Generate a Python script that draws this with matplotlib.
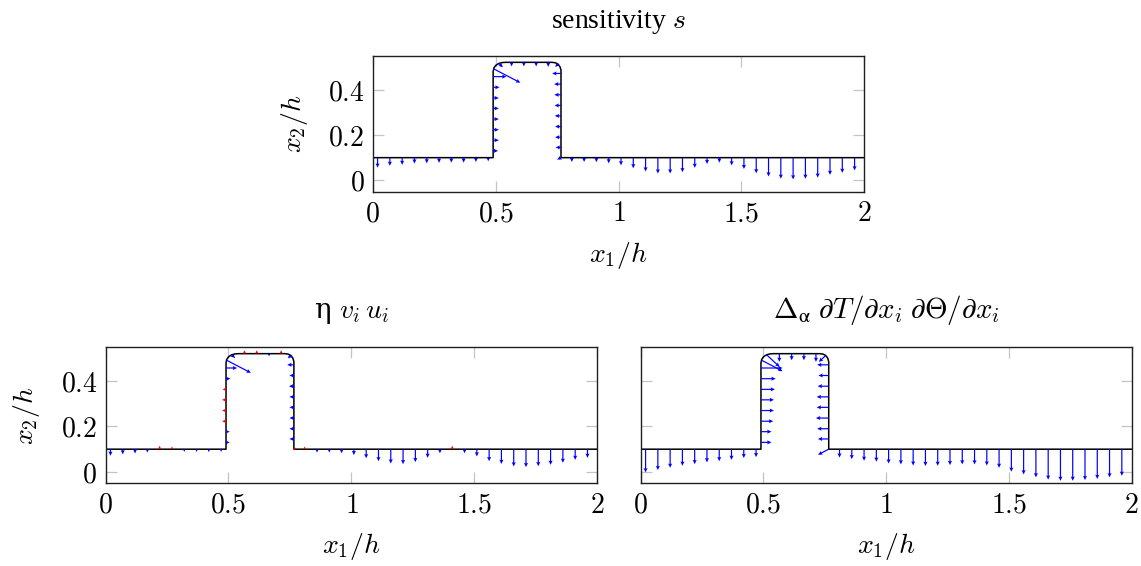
import numpy as np
import matplotlib
matplotlib.use("Agg")
import matplotlib.pyplot as plt

plt.rcParams["mathtext.fontset"] = "cm"
plt.rcParams["font.family"] = ["DejaVu Serif"]

# --- geometry: boundary of the channel with the bump (x1/h, x2/h) -------------
outline_x = [0.0, 0.49, 0.49, 0.493, 0.501, 0.513, 0.527, 0.54,
             0.73, 0.743, 0.754, 0.762, 0.766, 0.766, 2.0]
outline_y = [0.1, 0.1, 0.48, 0.495, 0.507, 0.515, 0.519, 0.52,
             0.52, 0.518, 0.512, 0.50, 0.485, 0.1, 0.1]

# nodes where the vectors are drawn, segment by segment
flat_l_x = [0.02, 0.07, 0.12, 0.17, 0.22, 0.27, 0.32, 0.37, 0.42, 0.47]
wall_l_y = [0.130, 0.177, 0.223, 0.270, 0.317, 0.363, 0.410, 0.457]
top_x = [0.565, 0.615, 0.665, 0.714]
wall_r_y = [0.471, 0.424, 0.377, 0.330, 0.284, 0.237, 0.190, 0.145]
flat_r_x = [0.81, 0.86, 0.91, 0.96, 1.01, 1.06, 1.11, 1.16, 1.21, 1.26, 1.31, 1.36,
            1.41, 1.46, 1.51, 1.56, 1.61, 1.66, 1.71, 1.76, 1.81, 1.86, 1.91, 1.96]
# corner nodes: top-left wall end, left rounding, right rounding, right wall foot
corner_x = [0.491, 0.513, 0.754, 0.766]
corner_y = [0.492, 0.515, 0.512, 0.100]
corner_nx = [0.87, 0.707, -0.707, -0.87]
corner_ny = [-0.49, -0.707, -0.707, -0.49]

# signed magnitude along the normal, node order:
# flat_l | wall_l | corner 1,2 | top | corner 3 | wall_r | corner 4 | flat_r
sens = [0.044, 0.036, 0.032, 0.026, 0.025, 0.023, 0.022, 0.022, 0.019, 0.016,
        0.020, 0.023, 0.023, 0.023, 0.023, 0.023, 0.026, 0.054,
        0.126, 0.024,
        0.018, 0.018, 0.018, 0.020,
        0.017,
        0.036, 0.028, 0.027, 0.026, 0.025, 0.024, 0.024, 0.022,
        0.018,
        0.019, 0.019, 0.020, 0.025, 0.034, 0.047, 0.061, 0.070, 0.070, 0.064, 0.045, 0.028,
        0.022, 0.034, 0.050, 0.069, 0.083, 0.093, 0.096, 0.093, 0.088, 0.076, 0.067, 0.056]
eta = [0.029, 0.023, 0.019, 0.015, -0.015, -0.012, 0.012, 0.012, 0.013, 0.012,
       0.015, 0.015, -0.016, -0.016, -0.016, -0.014, 0.018, 0.045,
       0.115, 0.020,
       -0.015, -0.015, 0.012, -0.015,
       0.018,
       0.027, 0.018, 0.020, 0.018, 0.018, 0.018, 0.018, 0.018,
       -0.012,
       -0.012, 0.015, 0.015, 0.018, 0.026, 0.040, 0.053, 0.063, 0.066, 0.057, 0.038, 0.018,
       -0.015, 0.018, 0.032, 0.053, 0.065, 0.076, 0.079, 0.075, 0.069, 0.060, 0.047, 0.038]
delta = [0.102, 0.092, 0.082, 0.073, 0.066, 0.058, 0.053, 0.047, 0.039, 0.035,
         0.043, 0.043, 0.050, 0.053, 0.053, 0.057, 0.060, 0.088,
         0.100, 0.075,
         0.036, 0.029, 0.029, 0.036,
         0.040,
         0.047, 0.042, 0.045, 0.049, 0.049, 0.052, 0.047, 0.044,
         0.050,
         0.037, 0.044, 0.051, 0.055, 0.063, 0.067, 0.072, 0.074, 0.073, 0.070, 0.067, 0.067,
         0.072, 0.082, 0.099, 0.111, 0.124, 0.134, 0.139, 0.139, 0.136, 0.131, 0.124, 0.117]

xticks = [0, 0.5, 1, 1.5, 2]
xtick_labels = ["0", "0.5", "1", "1.5", "2"]
yticks = [0, 0.2, 0.4]
ytick_labels = ["0", "0.2", "0.4"]

# --- assemble node positions and normals --------------------------------------
n_l, n_wl, n_t, n_wr, n_r = (len(flat_l_x), len(wall_l_y), len(top_x),
                             len(wall_r_y), len(flat_r_x))
px = np.concatenate([flat_l_x, [0.49] * n_wl, corner_x[:2], top_x, corner_x[2:3],
                     [0.766] * n_wr, corner_x[3:], flat_r_x])
py = np.concatenate([[0.1] * n_l, wall_l_y, corner_y[:2], [0.52] * n_t, corner_y[2:3],
                     wall_r_y, corner_y[3:], [0.1] * n_r])
nx = np.concatenate([[0] * n_l, [1] * n_wl, corner_nx[:2], [0] * n_t, corner_nx[2:3],
                     [-1] * n_wr, corner_nx[3:], [0] * n_r])
ny = np.concatenate([[-1] * n_l, [0] * n_wl, corner_ny[:2], [-1] * n_t, corner_ny[2:3],
                     [0] * n_wr, corner_ny[3:], [-1] * n_r])

GRIS = "#c4c4c4"
AZUL = "#0000ff"
ROJO = "#ff0000"


def panel(ax, mag, title, title_pad, title_size=20, ylabels=True):
    mag = np.asarray(mag)
    ax.plot(outline_x, outline_y, color="black", lw=1.1, zorder=2)
    cols = [AZUL if m >= 0 else ROJO for m in mag]
    ax.quiver(px, py, mag * nx, mag * ny, color=cols, angles="xy",
              scale_units="xy", scale=1, units="dots", width=1.2,
              headwidth=3.4, headlength=3.6, headaxislength=3.2,
              minlength=0.1, pivot="tail", zorder=3)
    ax.set_xlim(0, 2)
    ax.set_ylim(-0.05, 0.548)
    ax.set_xticks(xticks)
    ax.set_xticklabels([f"${t}$" for t in xtick_labels])
    ax.set_yticks(yticks)
    if ylabels:
        ax.set_yticklabels([f"${t}$" for t in ytick_labels])
        ax.set_ylabel("$x_2/h$", fontsize=20, labelpad=13)
    else:
        ax.set_yticklabels([])
    ax.set_xlabel("$x_1/h$", fontsize=20, labelpad=9)
    ax.tick_params(direction="in", length=8, width=0.9, color=GRIS,
                   top=True, right=True, labelsize=20, pad=6)
    for sp in ax.spines.values():
        sp.set_linewidth(1.0)
        sp.set_color("#202020")
    ax.set_title(title, fontsize=title_size, pad=title_pad)


fig = plt.figure(figsize=(11.41, 5.66), dpi=100)
ax_top = fig.add_axes([0.3266, 0.6613, 0.4310, 0.2398])
ax_bl = fig.add_axes([0.0925, 0.1461, 0.4310, 0.2403])
ax_br = fig.add_axes([0.5615, 0.1461, 0.4303, 0.2403])

panel(ax_top, sens, "sensitivity $s$", 20)
ax_top.title.set_family("Liberation Serif")
panel(ax_bl, eta, "η $v_i\\,u_i$", 21)
panel(ax_br, delta,
      r"$\Delta_{\mathrm{α}}\;\partial T/\partial x_i\;\partial\Theta/\partial x_i$",
      21, title_size=21, ylabels=False)

fig.savefig("out.png", dpi=100)
